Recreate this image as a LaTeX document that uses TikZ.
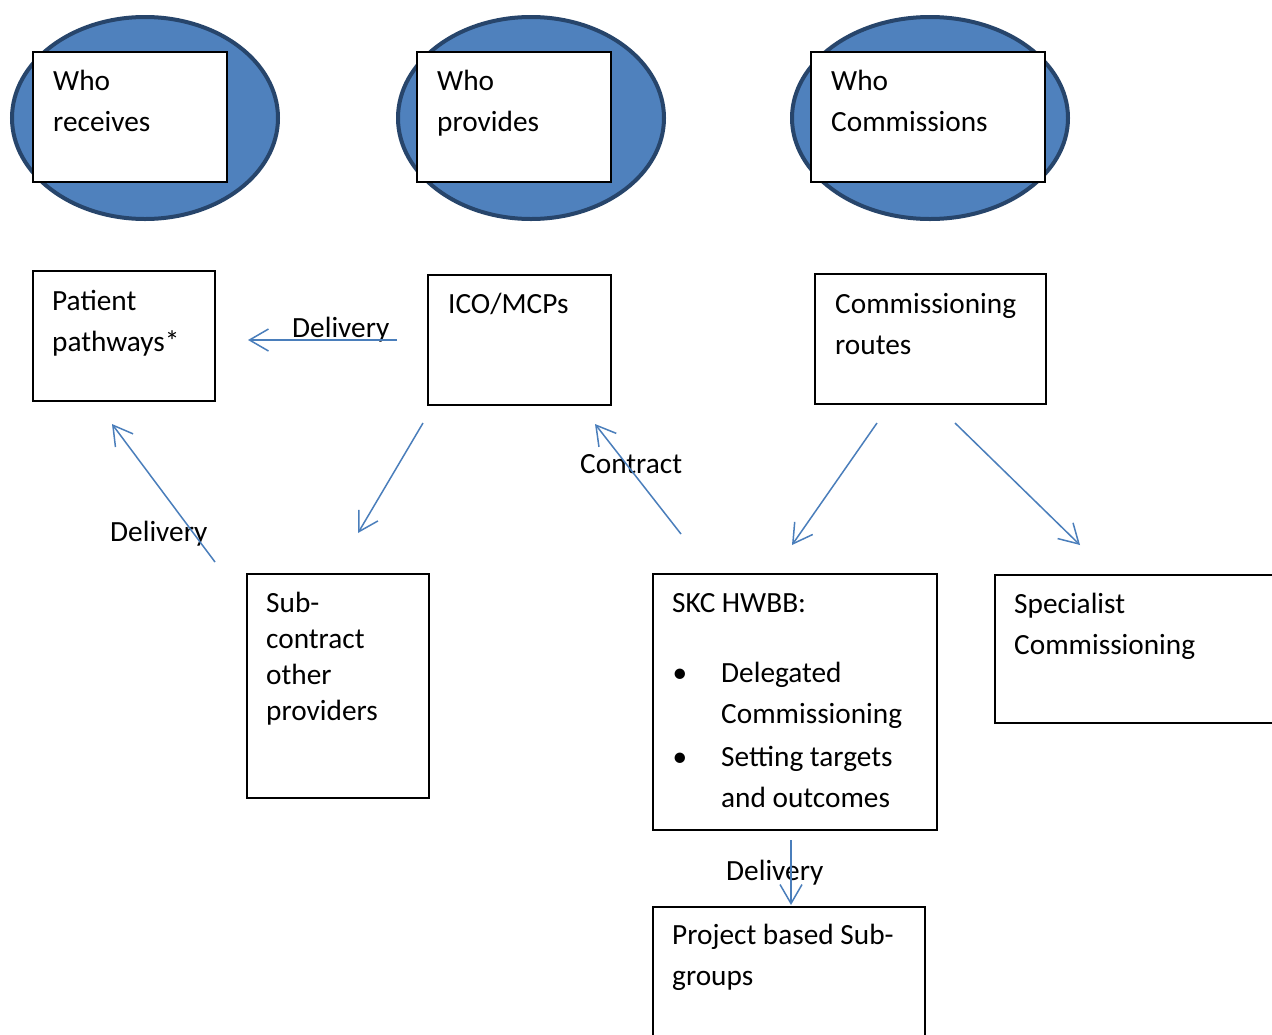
\documentclass[tikz,border=0pt]{standalone}
\usepackage{fontspec}
\setmainfont{Carlito}
\usetikzlibrary{shapes.geometric,arrows.meta}
\definecolor{ellfill}{HTML}{4F81BD}
\definecolor{elldraw}{HTML}{27456B}
\definecolor{arr}{HTML}{4A7EBB}
\begin{document}
\begin{tikzpicture}[x=1pt,y=-1pt,
  ell/.style={ellipse,draw=elldraw,fill=ellfill,line width=4pt,inner sep=0pt},
  tbox/.style={rectangle,draw=black,fill=white,line width=1.3pt,inner sep=0pt},
  mbox/.style={rectangle,draw=black,fill=white,line width=1.6pt,inner sep=0pt},
  txt/.style={anchor=north west,inner sep=0pt,align=left,font=\fontsize{29.3}{41}\selectfont},
  lbl/.style={anchor=base west,inner sep=0pt,font=\fontsize{29.3}{41}\selectfont},
  conn/.style={draw=arr,line width=1.5pt,-{Straight Barb[length=19pt,width=22pt,line width=1.5pt]}}
]
\clip (0,0) rectangle (1272,1034);
\useasboundingbox (0,0) rectangle (1272,1034);
\fill[white] (0,0) rectangle (1272,1034);
\newcommand{\fl}{\rule{0pt}{26pt}}

% ellipses with header boxes
\node[ell,minimum width=266pt,minimum height=202pt] (e1) at (145,118) {};
\node[ell,minimum width=266pt,minimum height=202pt] (e2) at (531,118) {};
\node[ell,minimum width=276pt,minimum height=202pt] (e3) at (930,118) {};
\node[tbox,minimum width=194pt,minimum height=130pt] (h1) at (130,117) {};
\node[tbox,minimum width=194pt,minimum height=130pt] (h2) at (514,117) {};
\node[tbox,minimum width=234pt,minimum height=130pt] (h3) at (928,117) {};
\node[txt] (t1) at (53,64) {\fl Who\\receives};
\node[txt] (t2) at (437,64) {\fl Who\\provides};
\node[txt] (t3) at (831,64) {\fl Who\\Commissions};

% second row
\node[mbox,minimum width=182pt,minimum height=130pt] (pp) at (124,336) {};
\node[txt] (tpp) at (52,284) {\fl Patient\\pathways*};
\node[mbox,minimum width=183pt,minimum height=130pt] (ico) at (519.5,340) {};
\node[txt] (tico) at (448,287) {\fl ICO/MCPs};
\node[mbox,minimum width=231pt,minimum height=130pt] (cr) at (930.5,339) {};
\node[txt] (tcr) at (835,287) {\fl Commissioning\\routes};

% third row
\node[mbox,minimum width=182pt,minimum height=224pt] (sub) at (338,686) {};
\node[txt,font=\fontsize{29.3}{36}\selectfont] (tsub) at (266,586) {\fl Sub-\\contract\\other\\providers};
\node[mbox,minimum width=284pt,minimum height=256pt] (skc) at (795,702) {};
\node[txt] (tskc) at (672,586) {\fl SKC HWBB:};
\node[txt] (tskc2) at (721,656) {\fl Delegated\\Commissioning\\[2pt]Setting targets\\and outcomes};
\node[lbl,anchor=base] (b1) at (680,682) {•};
\node[lbl,anchor=base] (b2) at (680,766) {•};
\node[mbox,minimum width=300pt,minimum height=148pt] (spec) at (1145,649) {};
\node[txt] (tspec) at (1014,587) {\fl Specialist\\Commissioning};
\node[mbox,minimum width=272pt,minimum height=153pt] (proj) at (789,983.5) {};
\node[txt] (tproj) at (672,918) {\fl Project based Sub-\\groups};

% connectors
\coordinate (d1s) at (397,340); \coordinate (d1e) at (248,340);
\coordinate (a2s) at (423,423); \coordinate (a2e) at (358,533);
\coordinate (d3s) at (215,562); \coordinate (d3e) at (112,424);
\coordinate (c4s) at (681,534); \coordinate (c4e) at (595,424);
\coordinate (a5s) at (877,423); \coordinate (a5e) at (792,545);
\coordinate (a6s) at (955,423); \coordinate (a6e) at (1080,545);
\coordinate (d7s) at (791,840); \coordinate (d7e) at (791,905);

\node[lbl] (l1) at (292,337) {Delivery};
\node[lbl] (l3) at (110,541) {Delivery};
\node[lbl] (l4) at (580,473) {Contract};
\node[lbl] (l7) at (726,880) {Delivery};

\draw[conn] (d1s) -- (d1e);
\draw[conn] (a2s) -- (a2e);
\draw[conn] (d3s) -- (d3e);
\draw[conn] (c4s) -- (c4e);
\draw[conn] (a5s) -- (a5e);
\draw[conn] (a6s) -- (a6e);
\draw[conn] (d7s) -- (d7e);
\end{tikzpicture}
\end{document}
